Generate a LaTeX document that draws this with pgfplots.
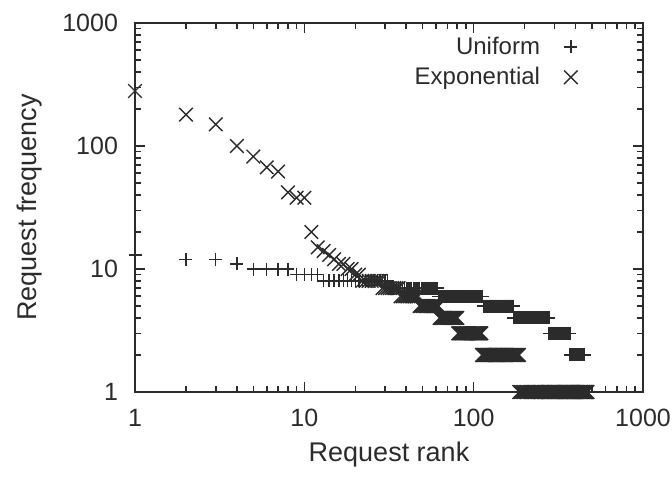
\documentclass[border=0pt]{standalone}
\usepackage{fontspec}
\setmainfont{Liberation Sans}
\usepackage{pgfplots}
\pgfplotsset{compat=1.18}
\definecolor{ink}{HTML}{2B2B2B}

\begin{document}
\begin{tikzpicture}
\useasboundingbox (-67.5pt,-42.5pt) rectangle (268.5pt,196pt);
\begin{axis}[
  at={(0,0)}, anchor=south west,
  scale only axis, width=254pt, height=184.5pt,
  xmode=log, ymode=log,
  xmin=1, xmax=1000, ymin=1, ymax=1000,
  xtick={1,10,100,1000}, xticklabels={1,10,100,1000},
  ytick={1,10,100,1000}, yticklabels={1,10,100,1000},
  major tick length=5pt, minor tick length=3pt,
  axis line style={ink, line width=0.8pt},
  every tick/.style={ink, line width=0.8pt},
  tick label style={font=\fontsize{12.5}{14}\selectfont, text=ink},
  xticklabel style={yshift=-5pt},
  yticklabel style={xshift=-5pt},
  xlabel={Request rank}, ylabel={Request frequency},
  label style={font=\fontsize{13.5}{16}\selectfont, text=ink},
  xlabel style={at={(axis description cs:0.5,-0.1707)}, anchor=center},
  ylabel style={at={(axis description cs:-0.207,0.5)}, anchor=center},
  clip=false,
  legend style={draw=none, fill=none, at={(axis description cs:0.707,0.894)},
    anchor=center, font=\fontsize{12}{14}\selectfont, text=ink,
    row sep=1pt, column sep=10pt},
  legend cell align=right, legend plot pos=right,
]
% Uniform
\addplot[only marks, mark=+, mark size=3.25pt, ink, line width=0.7pt] table[row sep=\\] {
x y\\
1 13\\ 2 12\\ 3 12\\ 4 11\\ 5 10\\ 6 10\\ 7 10\\ 8 10\\ 9 9\\ 10 9\\ 11 9\\ 12 9\\
13 8\\ 14 8\\ 15 8\\ 16 8\\ 17 8\\ 18 8\\ 19 8\\ 20 8\\ 21 8\\ 22 8\\ 23 8\\ 24 8\\ 25 8\\ 26 8\\ 27 8\\ 28 8\\ 29 8\\ 30 8\\ 31 8\\
32 7\\ 33 7\\ 34 7\\ 35 7\\ 36 7\\ 37 7\\ 38 7\\ 39 7\\ 40 7\\ 41 7\\ 42 7\\ 43 7\\ 44 7\\ 45 7\\ 46 7\\
47 7\\ 48 7\\ 49 7\\ 50 7\\ 51 7\\ 52 7\\ 53 7\\ 54 7\\ 55 7\\ 56 7\\ 57 7\\ 58 7\\ 59 7\\ 60 7\\ 61 7\\
62 6\\ 63 6\\ 64 6\\ 65 6\\ 66 6\\ 67 6\\ 68 6\\ 69 6\\ 70 6\\ 71 6\\ 72 6\\ 73 6\\ 74 6\\ 75 6\\ 76 6\\ 77 6\\ 78 6\\
79 6\\ 80 6\\ 81 6\\ 82 6\\ 83 6\\ 84 6\\ 85 6\\ 86 6\\ 87 6\\ 88 6\\ 89 6\\ 90 6\\ 91 6\\ 92 6\\ 93 6\\ 94 6\\ 95 6\\
96 6\\ 97 6\\ 98 6\\ 99 6\\ 100 6\\ 101 6\\ 102 6\\ 103 6\\ 104 6\\ 105 6\\ 106 6\\ 107 6\\ 108 6\\ 109 6\\ 110 6\\ 111 6\\ 112 6\\ 113 6\\
114 5\\ 115 5\\ 116 5\\ 117 5\\ 118 5\\ 119 5\\ 120 5\\ 121 5\\ 122 5\\ 123 5\\ 124 5\\ 125 5\\ 126 5\\ 127 5\\ 128 5\\
129 5\\ 130 5\\ 131 5\\ 132 5\\ 133 5\\ 134 5\\ 135 5\\ 136 5\\ 137 5\\ 138 5\\ 139 5\\ 140 5\\ 141 5\\ 142 5\\ 143 5\\
144 5\\ 145 5\\ 146 5\\ 147 5\\ 148 5\\ 149 5\\ 150 5\\ 151 5\\ 152 5\\ 153 5\\ 154 5\\ 155 5\\ 156 5\\ 157 5\\ 158 5\\
159 5\\ 160 5\\ 161 5\\ 162 5\\ 163 5\\ 164 5\\ 165 5\\ 166 5\\ 167 5\\ 168 5\\ 169 5\\ 170 5\\ 171 5\\ 172 5\\
173 4\\ 174 4\\ 175 4\\ 176 4\\ 177 4\\ 178 4\\ 179 4\\ 180 4\\ 182 4\\ 184 4\\ 186 4\\ 188 4\\ 190 4\\ 192 4\\ 194 4\\ 196 4\\ 198 4\\ 200 4\\
203 4\\ 206 4\\ 209 4\\ 212 4\\ 215 4\\ 218 4\\ 221 4\\ 224 4\\ 227 4\\ 230 4\\ 233 4\\ 236 4\\ 239 4\\ 242 4\\ 245 4\\ 248 4\\
251 4\\ 254 4\\ 257 4\\ 260 4\\ 263 4\\ 266 4\\ 269 4\\ 272 4\\ 275 4\\ 278 4\\
279 3\\ 282 3\\ 285 3\\ 288 3\\ 291 3\\ 294 3\\ 297 3\\ 300 3\\ 303 3\\ 306 3\\ 309 3\\ 312 3\\ 315 3\\ 318 3\\ 321 3\\
324 3\\ 327 3\\ 330 3\\ 333 3\\ 336 3\\ 339 3\\ 342 3\\ 345 3\\ 348 3\\ 351 3\\ 354 3\\ 357 3\\ 360 3\\ 363 3\\ 366 3\\ 370 3\\
371 2\\ 375 2\\ 379 2\\ 383 2\\ 387 2\\ 391 2\\ 395 2\\ 399 2\\ 403 2\\ 407 2\\ 411 2\\
415 2\\ 419 2\\ 423 2\\ 427 2\\ 431 2\\ 435 2\\ 439 2\\ 443 2\\ 447 2\\ 450 2\\
451 1\\ 455 1\\ 459 1\\ 463 1\\ 467 1\\ 470 1\\
};
\addlegendentry{Uniform}
% Exponential
\addplot[only marks, mark=x, mark size=4.8pt, ink, line width=0.7pt] table[row sep=\\] {
x y\\
1 280\\ 2 180\\ 3 150\\ 4 100\\ 5 82\\ 6 67\\ 7 62\\ 8 42\\ 9 38\\ 10 38\\
11 20\\ 12 15\\ 13 14\\ 14 13\\ 15 12\\ 16 11\\ 17 11\\ 18 10\\ 19 10\\ 20 9\\ 21 9\\
22 8\\ 23 8\\ 24 8\\ 25 8\\ 26 8\\ 27 8\\ 28 8\\
29 7\\ 30 7\\ 31 7\\ 32 7\\ 33 7\\ 34 7\\ 35 7\\ 36 7\\
37 6\\ 38 6\\ 39 6\\ 40 6\\ 41 6\\ 42 6\\ 43 6\\ 44 6\\ 45 6\\ 46 6\\ 47 6\\
48 5\\ 49 5\\ 50 5\\ 51 5\\ 52 5\\ 53 5\\ 54 5\\ 55 5\\ 56 5\\ 57 5\\ 58 5\\ 59 5\\ 60 5\\ 61 5\\ 62 5\\
63 4\\ 64 4\\ 65 4\\ 66 4\\ 67 4\\ 68 4\\ 69 4\\ 70 4\\ 71 4\\ 72 4\\ 73 4\\ 74 4\\ 75 4\\ 76 4\\ 77 4\\ 78 4\\ 79 4\\ 80 4\\
81 3\\ 82 3\\ 83 3\\ 84 3\\ 85 3\\ 86 3\\ 87 3\\ 88 3\\ 89 3\\ 90 3\\ 91 3\\ 92 3\\ 93 3\\ 94 3\\ 95 3\\ 96 3\\
97 3\\ 98 3\\ 99 3\\ 100 3\\ 101 3\\ 102 3\\ 103 3\\ 104 3\\ 105 3\\ 106 3\\ 107 3\\ 108 3\\ 109 3\\ 110 3\\ 111 3\\
112 2\\ 113 2\\ 114 2\\ 115 2\\ 116 2\\ 117 2\\ 118 2\\ 119 2\\ 120 2\\ 121 2\\ 122 2\\ 123 2\\ 124 2\\ 125 2\\
126 2\\ 127 2\\ 128 2\\ 129 2\\ 130 2\\ 131 2\\ 132 2\\ 133 2\\ 134 2\\ 135 2\\ 136 2\\ 137 2\\ 138 2\\ 139 2\\
140 2\\ 142 2\\ 144 2\\ 146 2\\ 148 2\\ 150 2\\ 152 2\\ 154 2\\ 156 2\\ 158 2\\ 160 2\\ 162 2\\
164 2\\ 166 2\\ 168 2\\ 170 2\\ 172 2\\ 174 2\\ 176 2\\ 178 2\\ 180 2\\ 182 2\\ 184 2\\ 185 2\\
186 1\\ 190 1\\ 194 1\\ 198 1\\ 202 1\\ 206 1\\ 210 1\\ 214 1\\ 218 1\\ 222 1\\ 226 1\\ 230 1\\ 234 1\\ 238 1\\ 242 1\\ 246 1\\ 250 1\\ 254 1\\
258 1\\ 262 1\\ 266 1\\ 270 1\\ 274 1\\ 278 1\\ 282 1\\ 286 1\\ 290 1\\ 294 1\\ 298 1\\ 302 1\\ 306 1\\ 310 1\\ 314 1\\ 318 1\\ 322 1\\ 326 1\\
330 1\\ 334 1\\ 338 1\\ 342 1\\ 346 1\\ 350 1\\ 354 1\\ 358 1\\ 362 1\\ 366 1\\ 370 1\\ 374 1\\ 378 1\\ 382 1\\ 386 1\\ 390 1\\ 394 1\\ 398 1\\
402 1\\ 406 1\\ 410 1\\ 414 1\\ 418 1\\ 422 1\\ 426 1\\ 430 1\\ 434 1\\ 438 1\\ 442 1\\ 446 1\\ 450 1\\ 454 1\\ 458 1\\ 462 1\\ 466 1\\ 470 1\\
};
\addlegendentry{Exponential}
\end{axis}
\end{tikzpicture}
\end{document}
